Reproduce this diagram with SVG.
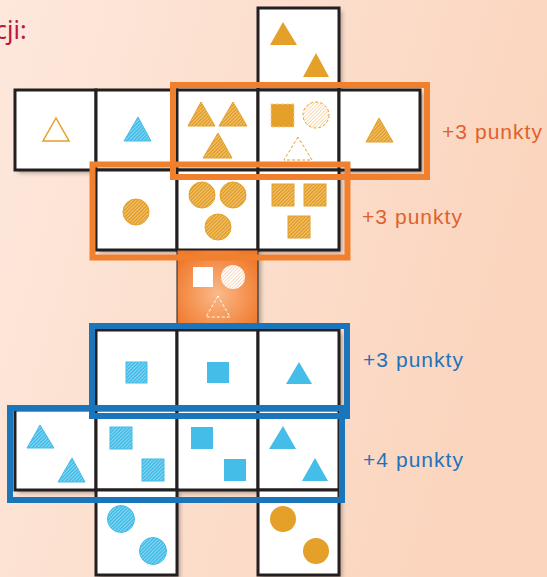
<svg xmlns="http://www.w3.org/2000/svg" width="547" height="577" viewBox="0 0 547 577">
<defs>
<linearGradient id="bg" x1="0" y1="0" x2="1" y2="0.3">
<stop offset="0" stop-color="#fde8dc"/>
<stop offset="1" stop-color="#fbd5be"/>
</linearGradient>
<radialGradient id="og" cx="0.5" cy="0.55" r="0.6">
<stop offset="0" stop-color="#fbb98a"/>
<stop offset="1" stop-color="#f07a2c"/>
</radialGradient>
<pattern id="hO" patternUnits="userSpaceOnUse" width="2.5" height="2.5" patternTransform="rotate(45)">
<rect width="2.5" height="2.5" fill="#e5a02a"/>
<line x1="0" y1="0" x2="0" y2="2.5" stroke="#fff" stroke-width="0.7"/>
</pattern>
<pattern id="hOl" patternUnits="userSpaceOnUse" width="2.5" height="2.5" patternTransform="rotate(45)">
<rect width="2.5" height="2.5" fill="#fff"/>
<line x1="0" y1="0" x2="0" y2="2.5" stroke="#eab25a" stroke-width="0.9"/>
</pattern>
<pattern id="hW" patternUnits="userSpaceOnUse" width="2.5" height="2.5" patternTransform="rotate(45)">
<rect width="2.5" height="2.5" fill="#fff"/>
<line x1="0" y1="0" x2="0" y2="2.5" stroke="#f39a5c" stroke-width="0.8"/>
</pattern>
<pattern id="hB" patternUnits="userSpaceOnUse" width="2.5" height="2.5" patternTransform="rotate(45)">
<rect width="2.5" height="2.5" fill="#45bde9"/>
<line x1="0" y1="0" x2="0" y2="2.5" stroke="#fff" stroke-width="0.7"/>
</pattern>
<filter id="sh" x="-10%" y="-10%" width="130%" height="130%">
<feDropShadow dx="3" dy="3" stdDeviation="2" flood-color="#000" flood-opacity="0.3"/>
</filter>
</defs>
<style>
.cell{fill:#fff;stroke:#231f20;stroke-width:3}
.so{fill:#e5a02a}
.ho{fill:url(#hO);stroke:#e5a02a;stroke-width:1}
.sb{fill:#45bde9}
.hb{fill:url(#hB);stroke:#45bde9;stroke-width:1}
.ob{fill:none;stroke:#f07f2e;stroke-width:6}
.bb{fill:none;stroke:#1a75bb;stroke-width:6}
.lbl{font-family:"Liberation Sans",Arial,sans-serif;font-size:21px}
</style>
<rect width="547" height="577" fill="url(#bg)"/>
<text x="-5" y="39" font-family="'Noto Sans','Liberation Sans',sans-serif" font-size="25" fill="#b8173f">cji:</text>

<g id="cells-bg" filter="url(#sh)">
<rect x="258" y="8" width="81" height="82" fill="#fff"/>
<rect x="15" y="90" width="405" height="80" fill="#fff"/>
<rect x="96" y="170" width="243" height="80" fill="#fff"/>
<rect x="177" y="250" width="81" height="80" fill="#fff"/>
<rect x="96" y="330" width="243" height="80" fill="#fff"/>
<rect x="15" y="410" width="324" height="80" fill="#fff"/>
<rect x="96" y="490" width="81" height="85" fill="#fff"/>
<rect x="258" y="490" width="81" height="85" fill="#fff"/>
</g>

<g id="top">
<rect class="cell" x="258" y="8" width="81" height="82"/>
<polygon class="so" points="283,22 270,45 297,45"/>
<polygon class="so" points="316,53 303,77 329,77"/>
</g>

<g id="r1c1">
<rect class="cell" x="15" y="90" width="81" height="80"/>
<polygon points="56,118 43,141 69,141" fill="#fff" stroke="#e5a02a" stroke-width="1.5"/>
</g>
<g id="r1c2">
<rect class="cell" x="96" y="90" width="81" height="80"/>
<polygon class="hb" points="138,117 124,141 151,141"/>
</g>
<g id="r1c3">
<rect class="cell" x="177" y="90" width="81" height="80"/>
<polygon class="ho" points="201,102 188,126 215,126"/>
<polygon class="ho" points="233,102 219,126 247,126"/>
<polygon class="ho" points="218,133 203,158 232,158"/>
</g>
<g id="r1c4">
<rect class="cell" x="258" y="90" width="81" height="80"/>
<rect x="271" y="104" width="23" height="23" fill="#e5a02a" stroke="#f3cf8e" stroke-width="1" stroke-dasharray="3 2"/>
<circle cx="316" cy="115" r="13" fill="url(#hOl)" stroke="#e5a02a" stroke-width="1" stroke-dasharray="3 2"/>
<polygon points="298,137 284,160 312,160" fill="none" stroke="#e5a02a" stroke-width="1" stroke-dasharray="3 2"/>
</g>
<g id="r1c5">
<rect class="cell" x="339" y="90" width="81" height="80"/>
<polygon class="ho" points="379,118 366,142 393,142"/>
</g>

<g id="r2c1">
<rect class="cell" x="96" y="170" width="81" height="80"/>
<circle class="ho" cx="136" cy="212" r="13"/>
</g>
<g id="r2c2">
<rect class="cell" x="177" y="170" width="81" height="80"/>
<circle class="ho" cx="202" cy="195" r="13"/>
<circle class="ho" cx="233" cy="195" r="13"/>
<circle class="ho" cx="218" cy="227" r="13"/>
</g>
<g id="r2c3">
<rect class="cell" x="258" y="170" width="81" height="80"/>
<rect class="ho" x="272" y="184" width="22" height="22"/>
<rect class="ho" x="304" y="184" width="22" height="22"/>
<rect class="ho" x="288" y="216" width="22" height="22"/>
</g>

<g id="center">
<rect x="177" y="250" width="81" height="80" fill="url(#og)" stroke="#231f20" stroke-width="1"/>
<rect x="193" y="267" width="20" height="20" fill="#fff"/>
<circle cx="233" cy="277" r="12" fill="url(#hW)"/>
<polygon points="218,296 206,317 230,317" fill="none" stroke="#fff" stroke-width="1" stroke-dasharray="3 2"/>
</g>

<g id="r4c1">
<rect class="cell" x="96" y="330" width="81" height="80"/>
<rect class="hb" x="126" y="362" width="21" height="21"/>
</g>
<g id="r4c2">
<rect class="cell" x="177" y="330" width="81" height="80"/>
<rect class="sb" x="207" y="362" width="22" height="21"/>
</g>
<g id="r4c3">
<rect class="cell" x="258" y="330" width="81" height="80"/>
<polygon class="sb" points="299,362 286,384 312,384"/>
</g>

<g id="r5c1">
<rect class="cell" x="15" y="410" width="81" height="80"/>
<polygon class="hb" points="40,425 27,448 54,448"/>
<polygon class="hb" points="72,458 58,482 85,482"/>
</g>
<g id="r5c2">
<rect class="cell" x="96" y="410" width="81" height="80"/>
<rect class="hb" x="110" y="427" width="22" height="22"/>
<rect class="hb" x="142" y="459" width="22" height="22"/>
</g>
<g id="r5c3">
<rect class="cell" x="177" y="410" width="81" height="80"/>
<rect class="sb" x="191" y="427" width="22" height="22"/>
<rect class="sb" x="224" y="459" width="22" height="22"/>
</g>
<g id="r5c4">
<rect class="cell" x="258" y="410" width="81" height="80"/>
<polygon class="sb" points="283,426 269,449 296,449"/>
<polygon class="sb" points="315,458 302,481 328,481"/>
</g>

<g id="r6c1">
<rect class="cell" x="96" y="490" width="81" height="85"/>
<circle class="hb" cx="121" cy="519" r="13.5"/>
<circle class="hb" cx="153" cy="551" r="13.5"/>
</g>
<g id="r6c2">
<rect class="cell" x="258" y="490" width="81" height="85"/>
<circle class="so" cx="283" cy="519" r="13"/>
<circle class="so" cx="316" cy="551" r="13"/>
</g>

<g id="connectors">
<rect class="ob" x="173" y="85" width="254" height="92"/>
<rect class="ob" x="92.5" y="164.5" width="255" height="93"/>
<rect class="bb" x="92" y="326" width="255" height="90"/>
<rect class="bb" x="10" y="408" width="332" height="92"/>
</g>

<g id="labels">
<text class="lbl" x="442" y="139" fill="#e0612b" textLength="100">+3 punkty</text>
<text class="lbl" x="362" y="224" fill="#e0612b" textLength="100">+3 punkty</text>
<text class="lbl" x="363" y="367" fill="#1e73be" textLength="100">+3 punkty</text>
<text class="lbl" x="363" y="467" fill="#1e73be" textLength="100">+4 punkty</text>
</g>
</svg>
